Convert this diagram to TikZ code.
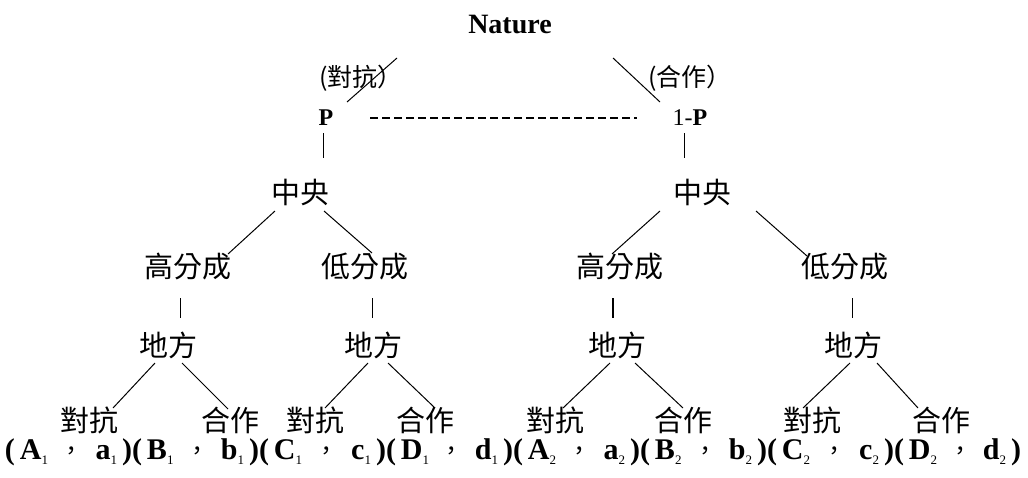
\documentclass[tikz,border=0pt]{standalone}
\usepackage{fontspec}
\setmainfont{Liberation Serif}
\newfontfamily\cjk{Noto Sans CJK TC}
\begin{document}
\begin{tikzpicture}[x=1pt,y=-1pt,
  lbl/.style={inner sep=0pt, font=\cjk\fontsize{29}{32}\selectfont},
  toplbl/.style={inner sep=0pt, font=\cjk\fontsize{25}{28}\selectfont},
  pbox/.style={inner sep=0pt, font=\bfseries\fontsize{24}{28}\selectfont},
  pay/.style={inner sep=0pt, font=\bfseries\fontsize{30}{34}\selectfont},
  ln/.style={line width=1pt, black},
  dashln/.style={line width=1.6pt, dash pattern=on 8pt off 4pt}]
\useasboundingbox[fill=white] (0,0) rectangle (1028,477);

\node[inner sep=0pt, font=\bfseries\fontsize{28}{32}\selectfont] (nat) at (510,25) {Nature};
\node[toplbl] (lp) at (361,78) {(對抗）};
\node[toplbl] (rp) at (690,78) {(合作）};
\node[pbox] (P) at (326,118) {P};
\node[inner sep=0pt, font=\fontsize{24}{28}\selectfont] (oneP) at (690,118) {1-\textbf{P}};

\draw[ln] ([shift={(21,-16)}]P.center) -- ([shift={(36,-20)}]lp.center);
\draw[ln] ([shift={(-77,-20)}]rp.center) -- ([shift={(-30,-16)}]oneP.center);
\draw[dashln] ([shift={(44,0)}]P.center) -- ([shift={(-53,0)}]oneP.center);

\node[lbl] (c1) at (300,192) {中央};
\node[lbl] (c2) at (702,192) {中央};
\draw[ln] ([shift={(-3,15)}]P.center) -- ([shift={(23,-34)}]c1.center);
\draw[ln] ([shift={(-6,15)}]oneP.center) -- ([shift={(-18,-34)}]c2.center);

\node[lbl] (h1) at (188,267) {高分成};
\node[lbl] (l1) at (365,267) {低分成};
\node[lbl] (h2) at (620,267) {高分成};
\node[lbl] (l2) at (845,267) {低分成};
\draw[ln] ([shift={(-25,19)}]c1.center) -- ([shift={(40,-13)}]h1.center);
\draw[ln] ([shift={(24,19)}]c1.center) -- ([shift={(7,-14)}]l1.center);
\draw[ln] ([shift={(-42,19)}]c2.center) -- ([shift={(-8,-13)}]h2.center);
\draw[ln] ([shift={(54,19)}]c2.center) -- ([shift={(-38,-11)}]l2.center);

\node[lbl] (d1) at (168,345) {地方};
\node[lbl] (d2) at (373,345) {地方};
\node[lbl] (d3) at (617,345) {地方};
\node[lbl] (d4) at (853,345) {地方};
\draw[ln] ([shift={(-8,31)}]h1.center) -- ([shift={(12,-27)}]d1.center);
\draw[ln] ([shift={(7,31)}]l1.center) -- ([shift={(-1,-27)}]d2.center);
\draw[ln, line width=1.6pt] ([shift={(-7,31)}]h2.center) -- ([shift={(-4,-27)}]d3.center);
\draw[ln] ([shift={(7,31)}]l2.center) -- ([shift={(-1,-27)}]d4.center);

\node[lbl] (t1) at (89,420) {對抗};
\node[lbl] (g1) at (230,420) {合作};
\node[lbl] (t2) at (315,420) {對抗};
\node[lbl] (g2) at (425,420) {合作};
\node[lbl] (t3) at (555,420) {對抗};
\node[lbl] (g3) at (683,420) {合作};
\node[lbl] (t4) at (812,420) {對抗};
\node[lbl] (g4) at (941,420) {合作};
\draw[ln] ([shift={(-13,18)}]d1.center) -- ([shift={(24,-12)}]t1.center);
\draw[ln] ([shift={(14,18)}]d1.center) -- ([shift={(-2,-11)}]g1.center);
\draw[ln] ([shift={(-5,18)}]d2.center) -- ([shift={(10,-12)}]t2.center);
\draw[ln] ([shift={(15,18)}]d2.center) -- ([shift={(10,-12)}]g2.center);
\draw[ln] ([shift={(-7,18)}]d3.center) -- ([shift={(8,-12)}]t3.center);
\draw[ln] ([shift={(18,18)}]d3.center) -- ([shift={(0,-12)}]g3.center);
\draw[ln] ([shift={(-3,18)}]d4.center) -- ([shift={(-9,-12)}]t4.center);
\draw[ln] ([shift={(24,18)}]d4.center) -- ([shift={(-23,-12)}]g4.center);

\newcommand{\sbs}[1]{\raisebox{-5pt}{\mdseries\fontsize{13}{13}\selectfont #1}}
\newcommand{\paypair}[2]{\makebox[127pt][l]{(\,#1\hfill{\cjk\mdseries\fontsize{24}{28}\selectfont ，}\hfill #2\,)}}
\node[pay] (p1) at (68.5,452) {\paypair{A\sbs{1}}{a\sbs{1}}};
\node[pay] (p2) at (195.5,452) {\paypair{B\sbs{1}}{b\sbs{1}}};
\node[pay] (p3) at (322.5,452) {\paypair{C\sbs{1}}{c\sbs{1}}};
\node[pay] (p4) at (449.5,452) {\paypair{D\sbs{1}}{d\sbs{1}}};
\node[pay] (p5) at (576.5,452) {\paypair{A\sbs{2}}{a\sbs{2}}};
\node[pay] (p6) at (703.5,452) {\paypair{B\sbs{2}}{b\sbs{2}}};
\node[pay] (p7) at (830.5,452) {\paypair{C\sbs{2}}{c\sbs{2}}};
\node[pay] (p8) at (957.5,452) {\paypair{D\sbs{2}}{d\sbs{2}}};
\end{tikzpicture}
\end{document}
